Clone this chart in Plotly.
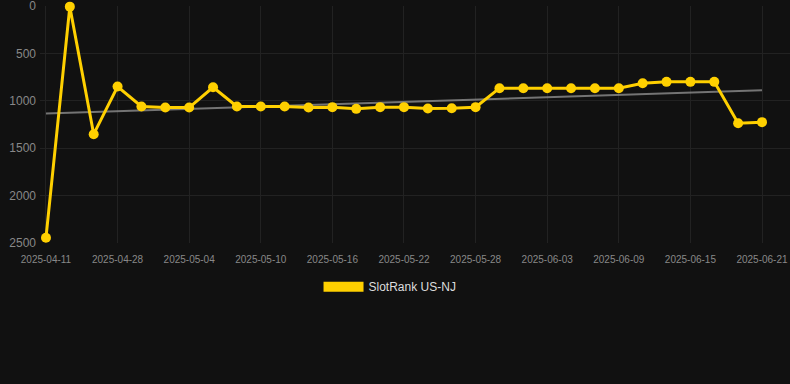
import numpy as np
import plotly.graph_objects as go

dates = ["2025-04-11", "2025-04-24", "2025-04-26", "2025-04-28", "2025-04-30", "2025-05-02",
         "2025-05-04", "2025-05-06", "2025-05-08", "2025-05-10", "2025-05-12", "2025-05-14",
         "2025-05-16", "2025-05-18", "2025-05-20", "2025-05-22", "2025-05-24", "2025-05-26",
         "2025-05-28", "2025-05-30", "2025-06-01", "2025-06-03", "2025-06-05", "2025-06-07",
         "2025-06-09", "2025-06-11", "2025-06-13", "2025-06-15", "2025-06-17", "2025-06-19",
         "2025-06-21"]
ranks = [2444, 7, 1352, 850, 1060, 1071, 1071, 857, 1060, 1060, 1060, 1071, 1067, 1085, 1067,
         1067, 1081, 1078, 1067, 867, 867, 867, 867, 867, 867, 815, 800, 800, 800, 1236, 1225]
tick_labels = dates[::3]
y_ticks = [0, 500, 1000, 1500, 2000, 2500]
series_name = "SlotRank US-NJ"

YELLOW = "#ffd000"
idx = np.arange(len(ranks))
slope, intercept = np.polyfit(idx, ranks, 1)
trend = slope * idx + intercept

fig = go.Figure()
fig.add_trace(go.Scatter(
    x=dates, y=trend, mode="lines", line=dict(color="rgba(150,150,150,0.75)", width=2),
    showlegend=False, hoverinfo="skip"))
fig.add_trace(go.Scatter(
    x=dates, y=ranks, mode="lines+markers", name=series_name,
    line=dict(color=YELLOW, width=3), marker=dict(color=YELLOW, size=10),
    cliponaxis=False, showlegend=False))
# legend swatch entry
fig.add_trace(go.Scatter(
    x=[None], y=[None], mode="lines", name=series_name,
    line=dict(color=YELLOW, width=12), showlegend=True))

n = len(dates)
fig.update_layout(
    width=790, height=384,
    paper_bgcolor="#111111", plot_bgcolor="#111111",
    margin=dict(l=40, r=0, t=6, b=141),
    font=dict(family="Liberation Sans, Arial, sans-serif", color="#888888"),
    showlegend=True,
    legend=dict(orientation="h", x=0.4667, xanchor="center", y=-0.123, yanchor="top",
                font=dict(size=12, color="#dddddd"), itemwidth=40,
                bgcolor="rgba(0,0,0,0)"),
    xaxis=dict(type="category", range=[-0.25, n - 1 + 28 / 23.87],
               tickmode="array", tickvals=tick_labels, ticktext=tick_labels,
               tickfont=dict(size=10, color="#888888"), showgrid=True,
               gridcolor="#222222", gridwidth=1, zeroline=False, showline=False,
               ticks="", ticklabelstandoff=9, ticklabeloverflow="allow"),
    yaxis=dict(range=[2500, 0], tickvals=y_ticks, tickfont=dict(size=12, color="#888888"),
               showgrid=True, gridcolor="#222222", gridwidth=1, zeroline=False,
               showline=False, ticks="", ticklabelstandoff=3, ticklabeloverflow="allow"),
)

fig.write_html("out.html", config={"displayModeBar": False},
               post_script="document.body.style.margin='0';document.body.style.background='#111111';")
